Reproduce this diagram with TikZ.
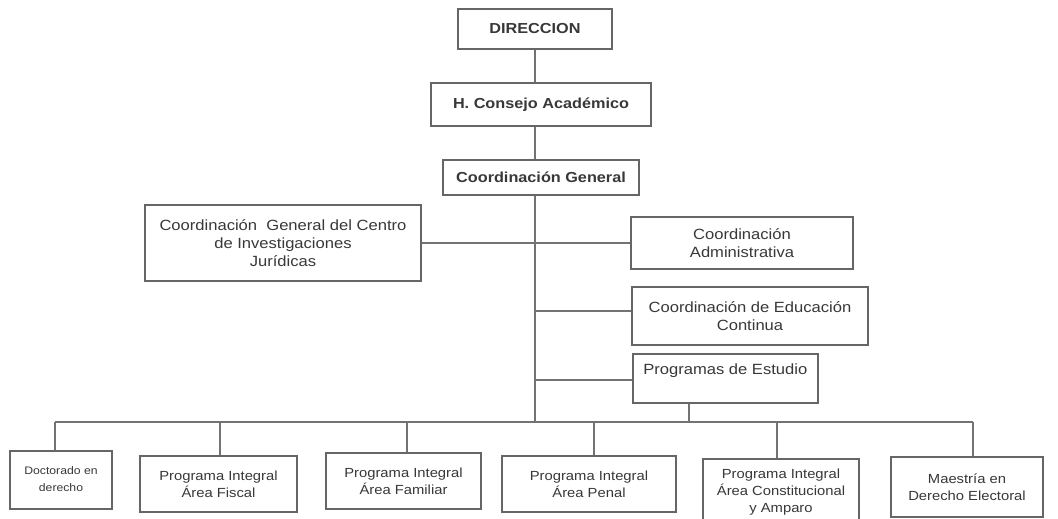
\documentclass[tikz,border=0pt]{standalone}
\usepackage{fontspec}
\setmainfont{Liberation Sans}[FakeStretch=1.12]
\begin{document}
\begin{tikzpicture}[x=1pt,y=-1pt,
  ln/.style={draw=black!55,line width=1.6pt},
  bx/.style={draw=black!60,line width=1.6pt,text=black!78,align=center,inner sep=0pt},
  hd/.style={bx,font=\fontsize{14.5}{17}\selectfont\bfseries},
  rg/.style={bx,font=\fontsize{14.8}{18}\selectfont},
  ch/.style={bx,font=\fontsize{13.2}{17}\selectfont},
  sm/.style={bx,font=\fontsize{10.9}{17}\selectfont}]
\useasboundingbox (0,0) rectangle (1058,519);
\fill[white] (0,0) rectangle (1058,519);
% top chain
\node[hd,minimum width=154pt,minimum height=40pt] (dir) at (535,29) {DIRECCION};
\node[hd,minimum width=220pt,minimum height=43pt] (con) at (541,104.5) {H. Consejo Académico};
\node[hd,minimum width=196pt,minimum height=35pt] (cg) at (541,177.5) {Coordinación General};
% side boxes
\node[rg,minimum width=276pt,minimum height=76pt] (cgc) at (283,243) {Coordinación\ \ General del Centro\\de Investigaciones\\Jurídicas};
\node[rg,minimum width=222pt,minimum height=52pt] (cad) at (742,243) {Coordinación\\Administrativa};
\node[rg,minimum width=236pt,minimum height=58pt] (ced) at (750,316) {Coordinación de Educación\\Continua};
\node[rg,minimum width=185pt,minimum height=49pt,anchor=north west] (pe) at (632,353) {};
\node[rg,draw=none,anchor=north] (pet) at (pe.north) {\rule{0pt}{21pt}Programas de Estudio};
% children
\node[sm,minimum width=102pt,minimum height=58pt] (c1) at (61,480) {\raisebox{3pt}{\begin{tabular}{@{}c@{}}Doctorado en\\derecho\end{tabular}}};
\node[ch,minimum width=157pt,minimum height=56pt] (c2) at (218.5,484) {Programa Integral\\Área Fiscal};
\node[ch,minimum width=155pt,minimum height=56pt] (c3) at (403.5,481) {Programa Integral\\Área Familiar};
\node[ch,minimum width=174pt,minimum height=56pt] (c4) at (589,484) {Programa Integral\\Área Penal};
\node[ch,minimum width=156pt,minimum height=66pt,anchor=north] (c5) at (781,458) {Programa Integral\\Área Constitucional\\y Amparo};
\node[ch,minimum width=152pt,minimum height=60pt] (c6) at (967,487) {Maestría en\\Derecho Electoral};
% junction coordinates
\coordinate (j1) at (535,243);
\coordinate (j2) at (535,311);
\coordinate (j3) at (535,380);
\coordinate (jb) at (535,422);
\coordinate (pd) at (689,422);
\coordinate (bl) at (55,422);
\coordinate (d2) at (220,422);
\coordinate (d3) at (407,422);
\coordinate (d4) at (594,422);
\coordinate (d5) at (777,422);
\coordinate (br) at (973,422);
% connectors
\draw[ln] (dir.south -| jb) -- (con.north -| jb);
\draw[ln] (con.south -| jb) -- (cg.north -| jb);
\draw[ln] (cg.south -| jb) -- (jb);
\draw[ln] (cgc.east) -- (cad.west);
\draw[ln] (j2) -- (j2 -| ced.west);
\draw[ln] (j3) -- (j3 -| pe.west);
\draw[ln] (pd |- pe.south) -- (pd);
\draw[ln] (bl) -- (br);
\draw[ln] (bl) -- (bl |- c1.north);
\draw[ln] (d2) -- (d2 |- c2.north);
\draw[ln] (d3) -- (d3 |- c3.north);
\draw[ln] (d4) -- (d4 |- c4.north);
\draw[ln] (d5) -- (d5 |- c5.north);
\draw[ln] (br) -- (br |- c6.north);
\end{tikzpicture}
\end{document}
